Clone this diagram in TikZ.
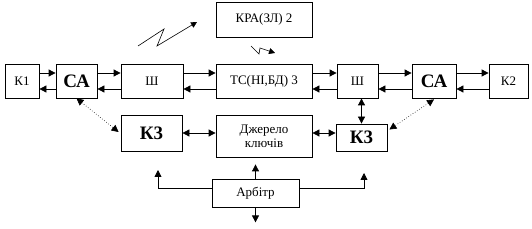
\documentclass[tikz,border=0pt]{standalone}
\usepackage{fontspec}
\setmainfont{Liberation Serif}
\usetikzlibrary{arrows.meta,calc}
\begin{document}
\begin{tikzpicture}[x=1pt,y=-1pt,
  box/.style={draw,line width=0.8pt,inner sep=0pt,font=\fontsize{13}{14}\selectfont},
  bigbox/.style={box,font=\fontsize{19}{21}\selectfont\bfseries},
  tip/.tip={Triangle[length=7pt,width=7pt]},
  conn/.style={line width=0.8pt,-tip},
  dconn/.style={line width=0.8pt,tip-tip},
  dotconn/.style={line width=0.6pt,dotted,tip-tip}]
\useasboundingbox (0,0) rectangle (532,229);
% top row
\node[box,minimum width=34pt,minimum height=34pt] (k1) at (22,81) {К1};
\node[bigbox,minimum width=41pt,minimum height=34pt] (cal) at (76.5,81) {СА};
\node[box,minimum width=62pt,minimum height=34pt] (shl) at (152,81) {Ш};
\node[box,minimum width=96pt,minimum height=34pt] (tc) at (264,81) {ТС(НІ,БД) 3};
\node[box,minimum width=41pt,minimum height=34pt] (shr) at (357.5,81) {Ш};
\node[bigbox,minimum width=44pt,minimum height=34pt] (car) at (434,81) {СА};
\node[box,minimum width=39pt,minimum height=34pt] (k2) at (508.5,81) {К2};
\node[box,minimum width=96pt,minimum height=35pt] (kra) at (264,19.5) {КРА(ЗЛ) 2};
% middle row
\node[bigbox,minimum width=61pt,minimum height=36pt] (k3l) at (151.5,133) {К3};
\node[box,minimum width=96pt,minimum height=42pt,align=center] (dz) at (264,136) {Джерело\\ключів};
\node[bigbox,minimum width=51pt,minimum height=27pt] (k3r) at (361.5,137.5) {К3};
% bottom
\node[box,minimum width=87pt,minimum height=28pt] (arb) at (255.5,193) {Арбітр};
% top row connectors
\foreach \a/\b in {k1/cal,cal/shl,shl/tc,tc/shr,shr/car,car/k2}{
  \draw[conn] ([yshift=8pt]\a.east) -- ([yshift=8pt]\b.west);
  \draw[conn] ([yshift=-8pt]\b.west) -- ([yshift=-8pt]\a.east);
}
% middle connectors
\draw[dconn] (k3l.east) -- (k3l.east -| dz.west);
\draw[dconn] (dz.east |- k3l.east) -- (k3r.west |- k3l.east);
\draw[dconn] (k3r.north) -- (k3r.north |- shr.south);
\draw[dotconn] (cal.south) -- ([xshift=-2pt,yshift=1pt]k3l.west);
\draw[dotconn] ([yshift=-1pt]car.south) -- ([xshift=2pt,yshift=8pt]k3r.east);
% arbiter
\coordinate (up) at ([yshift=-7pt]dz.south);
\coordinate (dn) at ([yshift=-15pt]arb.south);
\coordinate (lt) at (158,170);
\coordinate (rt) at (364,173);
\draw[conn] (arb.north) -- (arb.north |- up);
\draw[conn] (arb.south) -- (dn);
\draw[conn] ([yshift=5pt]arb.west) -| (lt);
\draw[conn] ([yshift=5pt]arb.east) -| (rt);
% lightning
\draw[line width=0.6pt,-{Triangle[length=6pt,width=6pt]}] (138,46) -- (164,29) -- (157,46) -- (197,22);
\draw[line width=0.6pt,-{Triangle[length=6pt,width=6pt]}] (251,46) -- (259,54) -- (260,48) -- (275,53);
\end{tikzpicture}
\end{document}
